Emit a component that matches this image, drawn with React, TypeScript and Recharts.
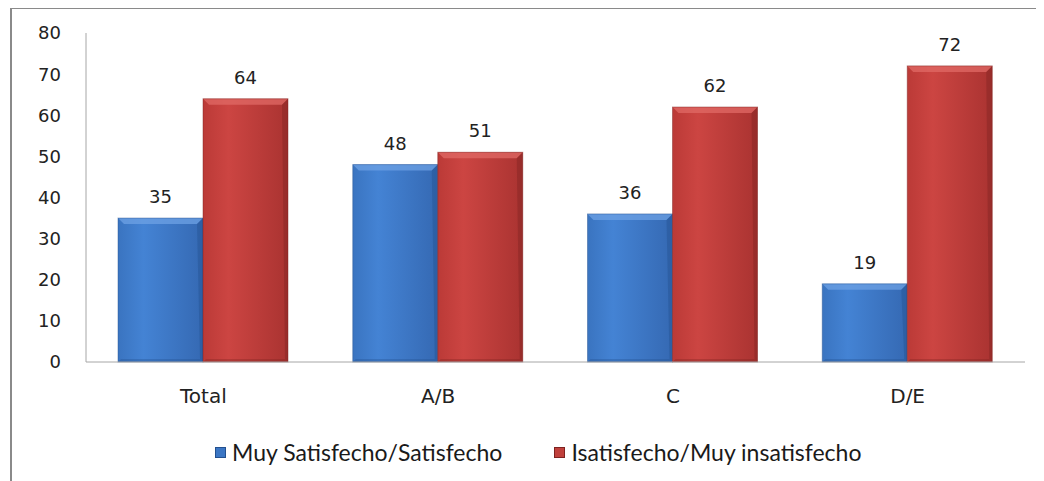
import { BarChart, Bar, XAxis, YAxis, LabelList } from "recharts";

const categories = ["Total", "A/B", "C", "D/E"];
const satisfecho = [35, 48, 36, 19];
const insatisfecho = [64, 51, 62, 72];
const yTicks = [0, 10, 20, 30, 40, 50, 60, 70, 80];

const SERIES = [
  { key: "sat", name: "Muy Satisfecho/Satisfecho", grad: "gBlue", light: "#6ea2e4", dark: "#23508f", swatch: "#3b76c4" },
  { key: "insat", name: "Isatisfecho/Muy insatisfecho", grad: "gRed", light: "#e06a66", dark: "#7e2220", swatch: "#c0403c" },
];

const data = categories.map((c, i) => ({ cat: c, sat: satisfecho[i], insat: insatisfecho[i] }));

const AXIS_FONT = "'DejaVu Sans', Verdana, sans-serif";

// bevelled bar, drawn from the rect recharts gives us
function makeShape(grad: string, light: string, dark: string) {
  return (props: any) => {
    const { x, y, width, height } = props;
    if (!height || height <= 0) return null;
    const b = Math.min(6, height / 3);
    return (
      <g>
        <rect x={x} y={y} width={width} height={height} fill={`url(#${grad})`} />
        <polygon
          points={`${x},${y} ${x + width},${y} ${x + width - b},${y + b} ${x + b},${y + b}`}
          fill={light}
          opacity={0.75}
        />
        <polygon
          points={`${x + width},${y} ${x + width},${y + height} ${x + width - 3},${y + height - 3} ${x + width - b},${y + b}`}
          fill={dark}
          opacity={0.4}
        />
        <polygon
          points={`${x},${y + height} ${x + width},${y + height} ${x + width - 3},${y + height - 3} ${x + 3},${y + height - 3}`}
          fill={dark}
          opacity={0.35}
        />
        <rect x={x} y={y} width={width} height={height} fill="none" stroke={dark} strokeOpacity={0.45} strokeWidth={1} />
      </g>
    );
  };
}

export default function App() {
  return (
    <div
      style={{
        position: "relative",
        marginLeft: 2,
        marginTop: -1,
        width: 1032,
        height: 472,
        borderLeft: "2px solid #8a8a8a",
        borderTop: "2px solid #8a8a8a",
        background: "#fff",
      }}
    >
      <BarChart
        width={1032}
        height={472}
        data={data}
        margin={{ top: 24, right: 19, left: 0, bottom: 0 }}
        barGap={0}
        barSize={85}
      >
        <defs>
          <linearGradient id="gBlue" x1="0" y1="0" x2="1" y2="0">
            <stop offset="0%" stopColor="#3a74c0" />
            <stop offset="30%" stopColor="#4483d4" />
            <stop offset="100%" stopColor="#3569b3" />
          </linearGradient>
          <linearGradient id="gRed" x1="0" y1="0" x2="1" y2="0">
            <stop offset="0%" stopColor="#bb3a37" />
            <stop offset="30%" stopColor="#cc4542" />
            <stop offset="100%" stopColor="#aa3331" />
          </linearGradient>
        </defs>
        <XAxis
          dataKey="cat"
          axisLine={{ stroke: "#a6a6a6", strokeWidth: 1 }}
          tickLine={false}
          tickSize={0}
          tickMargin={27}
          height={119}
          tick={{ fill: "#222", fontSize: 20, fontFamily: AXIS_FONT }}
        />
        <YAxis
          domain={[0, 80]}
          ticks={yTicks}
          width={74}
          axisLine={{ stroke: "#a6a6a6", strokeWidth: 1 }}
          tickLine={false}
          tickSize={0}
          tickMargin={25}
          tick={{ fill: "#222", fontSize: 18, fontFamily: AXIS_FONT }}
        />
        {SERIES.map((s) => (
          <Bar
            key={s.key}
            dataKey={s.key}
            name={s.name}
            fill={s.swatch}
            shape={makeShape(s.grad, s.light, s.dark)}
            isAnimationActive={false}
          >
            <LabelList dataKey={s.key} position="top" offset={15} fill="#222" fontSize={18} fontFamily={AXIS_FONT} />
          </Bar>
        ))}
      </BarChart>
      {/* legend kept outside recharts so it doesn't shrink the plot */}
      <div
        style={{
          position: "absolute",
          left: 203,
          top: 428,
          height: 30,
          display: "flex",
          alignItems: "center",
          gap: 52,
          fontFamily: "Lato, 'Open Sans', sans-serif",
          fontSize: 23,
          color: "#1a1a1a",
          whiteSpace: "nowrap",
        }}
      >
        {SERIES.map((s) => (
          <div key={s.key} style={{ display: "flex", alignItems: "center" }}>
            <span
              style={{
                display: "inline-block",
                width: 9,
                height: 9,
                background: s.swatch,
                border: `1px solid ${s.dark}`,
                marginRight: 6,
              }}
            />
            <span>{s.name}</span>
          </div>
        ))}
      </div>
    </div>
  );
}
